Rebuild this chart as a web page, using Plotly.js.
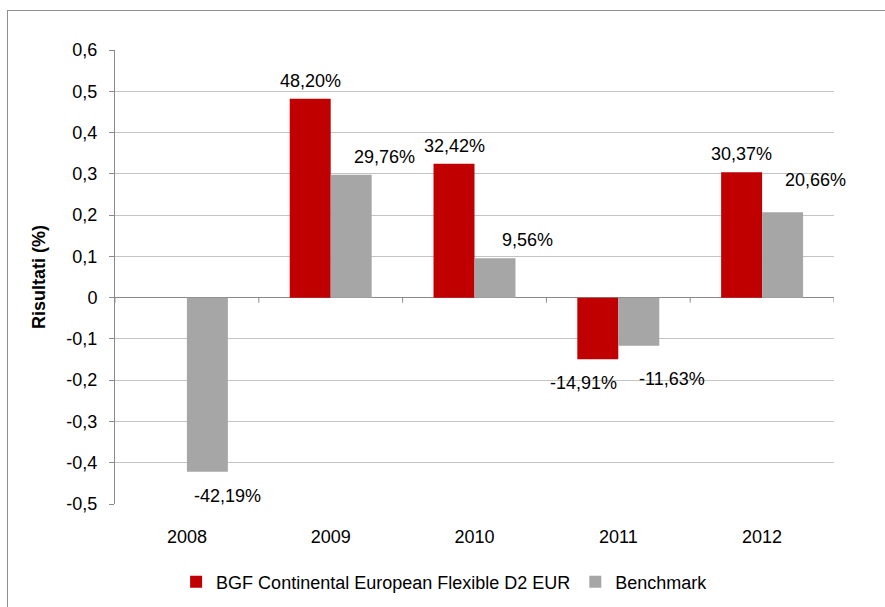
<!DOCTYPE html>
<html>
<head>
<meta charset="utf-8">
<script src="https://cdn.plot.ly/plotly-3.0.1.min.js"></script>
<style>
  html, body { margin: 0; padding: 0; background: #fff; overflow: hidden; }
  #chart { position: absolute; left: 0; top: 0; width: 885px; height: 607px; }
  #frame { position: absolute; left: 7px; top: 10px; width: 1200px; height: 900px;
           border-left: 1px solid #8f8f8f; border-top: 1px solid #8f8f8f; pointer-events: none; }
</style>
</head>
<body>
<div id="chart"></div>
<div id="frame"></div>
<script>
// ---- data ----
const years = ['2008', '2009', '2010', '2011', '2012'];
const fundName = 'BGF Continental European Flexible D2 EUR';
const benchName = 'Benchmark';
const fundValues = [null, 0.4820, 0.3242, -0.1491, 0.3037];
const benchValues = [-0.4219, 0.2976, 0.0956, -0.1163, 0.2066];
const yTickVals = [-0.5, -0.4, -0.3, -0.2, -0.1, 0, 0.1, 0.2, 0.3, 0.4, 0.5, 0.6];
const yTickText = ['-0,5', '-0,4', '-0,3', '-0,2', '-0,1', '0', '0,1', '0,2', '0,3', '0,4', '0,5', '0,6'];

// ---- style ----
const FONT = '"Liberation Sans", Arial, Helvetica, sans-serif';
const FS = 18;
const RED = '#C00000';
const GRAY = '#A6A6A6';
const BARGAP = 0.43;
// per-label pixel nudges (label placement style, as in the original)
const fundLabelNudge = [[0, 0], [0, 0], [0, 0], [-14, 0], [0, 0]];
const benchLabelNudge = [[-13, 0], [0, 0], [0, 0], [0, -9], [0, 14]];

function pct(v) {
  return (v * 100).toFixed(2).replace('.', ',') + '%';
}

const traces = [
  { type: 'bar', name: fundName, x: years, y: fundValues, legendgroup: 'fund',
    marker: { color: RED }, hoverinfo: 'skip' },
  { type: 'bar', name: benchName, x: years, y: benchValues, legendgroup: 'bench',
    marker: { color: GRAY }, hoverinfo: 'skip' }
];

// data labels computed from the values
const half = (1 - BARGAP) / 4;
const annotations = [];
[[fundValues, -half, 0, fundLabelNudge], [benchValues, half, 33, benchLabelNudge]].forEach(([vals, off, xs, nudge]) => {
  vals.forEach((v, i) => {
    if (v === null) return;
    annotations.push({
      x: i + off, y: v, xref: 'x', yref: 'y',
      text: pct(v), showarrow: false,
      xshift: xs + nudge[i][0],
      yanchor: v >= 0 ? 'bottom' : 'top',
      yshift: (v >= 0 ? 6 : -12) + nudge[i][1],
      font: { family: FONT, size: FS, color: '#000' }
    });
  });
});

// small category tick marks hanging from the zero line
const shapes = [];
for (let i = 0; i <= years.length; i++) {
  shapes.push({
    type: 'line', xref: 'x', yref: 'y', ysizemode: 'pixel', yanchor: 0,
    x0: i - 0.5, x1: i - 0.5, y0: 0, y1: -5,
    line: { color: '#8a8a8a', width: 1 }
  });
}

const layout = {
  width: 885, height: 607,
  margin: { l: 115, r: 51, t: 50, b: 103, pad: 0 },
  paper_bgcolor: '#fff', plot_bgcolor: '#fff',
  font: { family: FONT, size: FS, color: '#000' },
  barmode: 'group', bargap: BARGAP, bargroupgap: 0,
  showlegend: true,
  legend: {
    orientation: 'h', xref: 'paper', x: 0.085, xanchor: 'left',
    yref: 'container', y: 0.041, yanchor: 'middle',
    traceorder: 'grouped', tracegroupgap: 14,
    font: { family: FONT, size: FS, color: '#000' },
    bgcolor: 'rgba(0,0,0,0)'
  },
  xaxis: {
    type: 'category', range: [-0.5, 4.5], fixedrange: true,
    showgrid: false, showline: false, ticks: '', zeroline: false,
    ticklabelstandoff: 20,
    tickfont: { family: FONT, size: FS, color: '#000' }
  },
  yaxis: {
    range: [-0.5, 0.6], fixedrange: true,
    tickvals: yTickVals, ticktext: yTickText,
    showgrid: true, gridcolor: '#c4c4c4', gridwidth: 1,
    zeroline: true, zerolinecolor: '#8a8a8a', zerolinewidth: 1,
    showline: true, linecolor: '#8a8a8a', linewidth: 1,
    ticks: 'outside', ticklen: 5, tickcolor: '#8a8a8a',
    ticklabelstandoff: 8,
    tickfont: { family: FONT, size: FS, color: '#000' },
    title: { text: '<b>Risultati (%)</b>', standoff: 16,
             font: { family: FONT, size: FS, color: '#000' } }
  },
  annotations: annotations,
  shapes: shapes
};

Plotly.newPlot('chart', traces, layout, { displayModeBar: false, staticPlot: true });
</script>
</body>
</html>
